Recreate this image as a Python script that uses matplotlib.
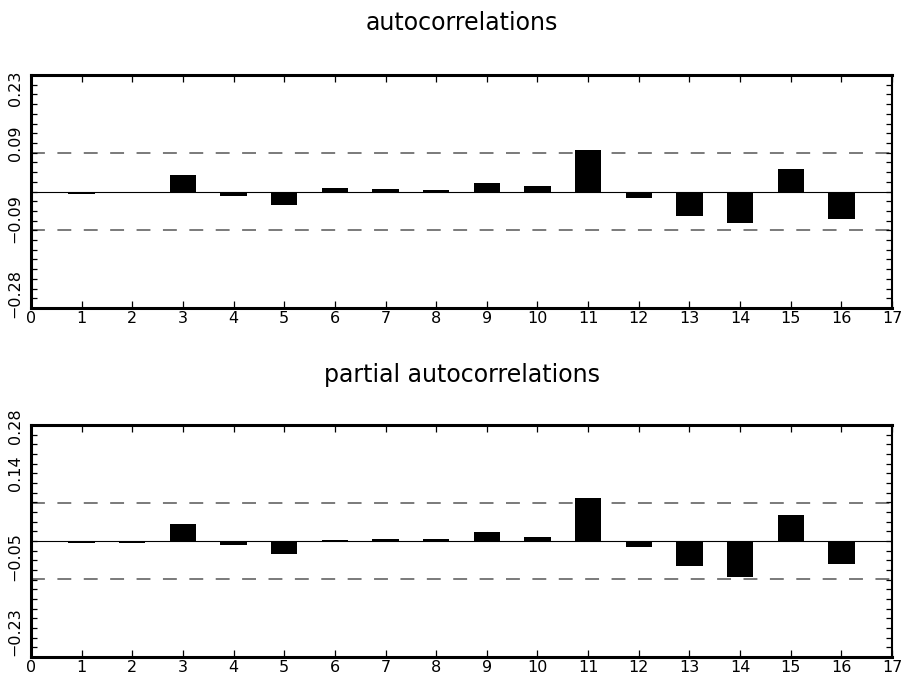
import matplotlib
matplotlib.use("Agg")
import matplotlib.pyplot as plt
from matplotlib.ticker import FixedLocator, MultipleLocator
import numpy as np

plt.rcParams["font.family"] = ["Liberation Sans Narrow", "DejaVu Sans Condensed", "DejaVu Sans"]

# lags and correlation values
lags = np.arange(1, 17)
acf = [-0.007, -0.005, 0.043, -0.011, -0.035, 0.008, 0.006, 0.004,
       0.023, 0.014, 0.108, -0.017, -0.064, -0.082, 0.059, -0.070]
pacf = [-0.006, -0.004, 0.043, -0.011, -0.034, 0.003, 0.005, 0.005,
        0.022, 0.011, 0.110, -0.016, -0.064, -0.093, 0.066, -0.060]
conf_band = 0.098

# the y tick labels as printed (they do not match their positions)
acf_ytick_pos = [0.2665, 0.1249, -0.0695, -0.2614]
acf_ytick_lab = ["0.23", "0.09", "\u22120.09", "\u22120.28"]
pacf_ytick_pos = [0.296, 0.1758, -0.0414, -0.2353]
pacf_ytick_lab = ["0.28", "0.14", "\u22120.05", "\u22120.23"]

xticks = np.arange(0, 18)

W, H = 903, 677
fig = plt.figure(figsize=(W / 100, H / 100), dpi=100)


def panel(rect, vals, ypos, ylab, title, title_y):
    ax = fig.add_axes(rect)
    ax.bar(lags, vals, width=0.52, color="black", linewidth=0, zorder=3)
    ax.axhline(0, color="black", lw=0.8, zorder=2)
    lw = 1.4
    for c in (conf_band, -conf_band):
        ax.axhline(c, color="#7a7a7a", lw=lw, dashes=(10.0 / lw, 9.0 / lw), zorder=1)
    ax.set_xlim(0, 17)
    ax.set_ylim(-0.3, 0.3)
    ax.set_xticks(xticks)
    ax.set_xticklabels([str(t) for t in xticks], fontsize=11.5)
    ax.yaxis.set_major_locator(FixedLocator(ypos))
    ax.set_yticklabels(ylab, rotation=90, fontsize=11.5, va="center")
    ax.yaxis.set_minor_locator(MultipleLocator(0.025))
    ax.tick_params(axis="x", which="major", direction="in", length=5,
                   width=0.9, top=True, pad=2)
    ax.tick_params(axis="y", which="major", length=0, pad=6)
    ax.tick_params(axis="y", which="minor", direction="in", length=4,
                   width=0.9, right=True)
    for s in ("top", "left", "bottom"):
        ax.spines[s].set_linewidth(2.2)
    ax.spines["right"].set_linewidth(1.5)
    fig.text(rect[0] + rect[2] / 2, title_y, title,
             ha="center", va="center", fontsize=17, family="DejaVu Sans")
    return ax


panel([31 / W, 1 - 308 / H, 861 / W, 233 / H], acf, acf_ytick_pos,
      acf_ytick_lab, "autocorrelations", 1 - 23 / H)
panel([31 / W, 1 - 657 / H, 861 / W, 232 / H], pacf, pacf_ytick_pos,
      pacf_ytick_lab, "partial autocorrelations", 1 - 375 / H)

fig.savefig("out.png", dpi=100)
